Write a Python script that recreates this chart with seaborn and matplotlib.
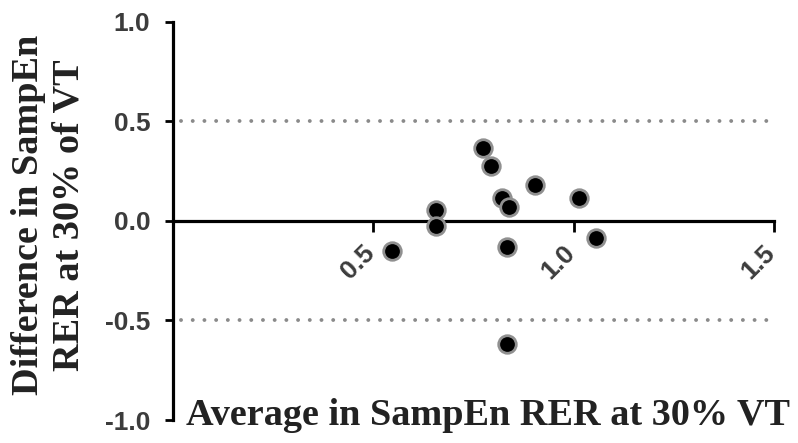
import matplotlib
matplotlib.use("Agg")
import matplotlib.pyplot as plt
import matplotlib.transforms as mtransforms
import seaborn as sns
import pandas as pd

# Data (Bland-Altman style plot)
avg_values = [0.547, 0.656, 0.658, 0.773, 0.795, 0.822, 0.840, 0.834, 0.903, 1.014, 1.057, 0.834]
diff_values = [-0.152, 0.053, -0.028, 0.364, 0.275, 0.117, 0.068, -0.132, 0.178, 0.113, -0.084, -0.617]
limits = [0.5, -0.5]
x_ticks = [0.5, 1.0, 1.5]
x_tick_labels = ["0.5", "1.0", "1.5"]
y_ticks = [-1.0, -0.5, 0.0, 0.5, 1.0]
y_tick_labels = ["-1.0", "-0.5", "0.0", "0.5", "1.0"]
x_label = "Average in SampEn RER at 30% VT"
y_label = "Difference in SampEn\nRER at 30% of VT"

df = pd.DataFrame({"avg": avg_values, "diff": diff_values})

sns.set_style("white")
plt.rcParams["font.family"] = ["Liberation Sans", "DejaVu Sans"]

W, H = 798, 443
fig = plt.figure(figsize=(W / 100, H / 100), dpi=100)
left_px, right_unit_px = 172.7, 400.9
top_px, bot_px = 21.7, 420.0
xmax = 1.53
ax = fig.add_axes([left_px / W, 1 - bot_px / H, xmax * right_unit_px / W, (bot_px - top_px) / H])

# limits of agreement (dotted)
for lim in limits:
    ax.plot([0.02, 1.5], [lim, lim], color="#8a8a8a", lw=2.8, linestyle=(0, (0.01, 3.0)),
            dash_capstyle="round", zorder=1)

sns.scatterplot(data=df, x="avg", y="diff", ax=ax, s=160, color="black",
                edgecolor="#909090", linewidth=2.0, zorder=3, legend=False)

ax.set_xlim(0, xmax)
ax.set_ylim(-1.0, 1.0)

for side in ["top", "right"]:
    ax.spines[side].set_visible(False)
ax.spines["bottom"].set_position(("data", 0))
ax.spines["bottom"].set_bounds(0, 1.5)
ax.spines["left"].set_bounds(-1.0, 1.0)
for side in ["bottom", "left"]:
    ax.spines[side].set_linewidth(2.3)
    ax.spines[side].set_color("black")
    ax.spines[side].set_zorder(2)

ax.set_xticks(x_ticks)
ax.set_xticklabels(x_tick_labels, rotation=45, ha="right", va="top")
ax.set_yticks(y_ticks)
ax.set_yticklabels(y_tick_labels)
ax.tick_params(axis="x", bottom=True, direction="out", length=8, width=2, pad=6, labelsize=19,
               labelcolor="#3c3c3c", color="black")
ax.tick_params(axis="y", left=True, direction="out", length=6, width=2, pad=10, labelsize=19,
               labelcolor="#3c3c3c", color="black")
for lbl in ax.get_xticklabels() + ax.get_yticklabels():
    lbl.set_fontweight("bold")
offset = mtransforms.ScaledTranslation(6 / 100, 0, fig.dpi_scale_trans)
for lbl in ax.get_xticklabels():
    lbl.set_transform(lbl.get_transform() + offset)

ax.set_xlabel("")
ax.set_ylabel("")
ax.grid(False)

fig.text(488 / W, 1 - 425 / H, x_label, ha="center", va="baseline",
         fontsize=27.5, fontweight="bold", family=["Liberation Serif", "DejaVu Serif"],
         color="#222222")
fig.text(49 / W, 1 - 215 / H, y_label, ha="center", va="center", rotation=90,
         multialignment="center", linespacing=1.2,
         fontsize=27.5, fontweight="bold", family=["Liberation Serif", "DejaVu Serif"],
         color="#222222")

fig.savefig("out.png", dpi=100, facecolor="white")
